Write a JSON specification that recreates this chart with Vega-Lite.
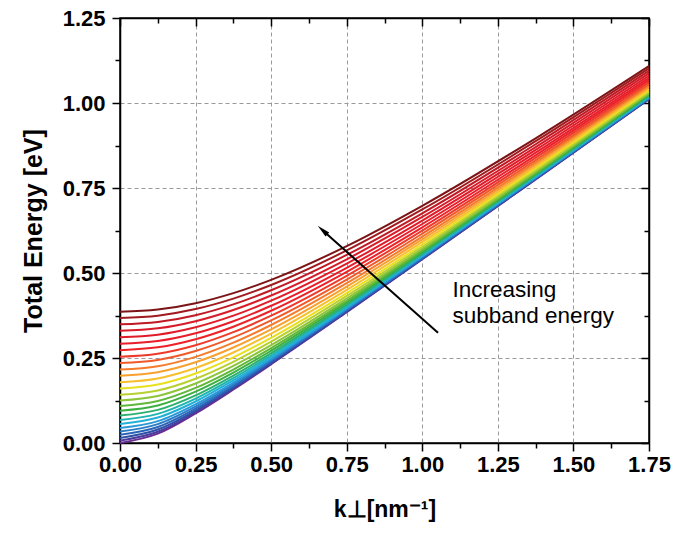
{
  "$schema": "https://vega.github.io/schema/vega-lite/v6.json",
  "width": 529,
  "height": 425,
  "autosize": "none",
  "padding": {"left": 120, "top": 18, "right": 28, "bottom": 94},
  "background": "white",
  "config": {
    "font": "Liberation Sans",
    "view": {"stroke": "black", "strokeWidth": 1.5},
    "axis": {
      "domainColor": "black",
      "domainWidth": 1.5,
      "tickColor": "black",
      "tickWidth": 1.5,
      "labelFont": "Liberation Sans",
      "labelFontWeight": "bold",
      "labelFontSize": 22,
      "labelColor": "black",
      "titleFont": "Liberation Sans",
      "titleFontWeight": "bold",
      "titleFontSize": 23,
      "titleColor": "black",
      "labelOverlap": false,
      "labelFlush": false
    }
  },
  "datasets": {
    "curves": [
      {"n":0,"k":0,"E":0},{"n":0,"k":0.125,"E":0.0275},{"n":0,"k":0.25,"E":0.0871},{"n":0,"k":0.375,"E":0.1574},{"n":0,"k":0.5,"E":0.2317},{"n":0,"k":0.75,"E":0.3848},{"n":0,"k":1.0,"E":0.5403},{"n":0,"k":1.375,"E":0.7754},{"n":0,"k":1.75,"E":1.0113},
      {"n":1,"k":0,"E":0.007},{"n":1,"k":0.125,"E":0.0330},{"n":1,"k":0.25,"E":0.0909},{"n":1,"k":0.375,"E":0.1602},{"n":1,"k":0.5,"E":0.2338},{"n":1,"k":0.75,"E":0.3863},{"n":1,"k":1.0,"E":0.5414},{"n":1,"k":1.375,"E":0.7762},{"n":1,"k":1.75,"E":1.0120},
      {"n":2,"k":0,"E":0.015},{"n":2,"k":0.125,"E":0.0396},{"n":2,"k":0.25,"E":0.0955},{"n":2,"k":0.375,"E":0.1636},{"n":2,"k":0.5,"E":0.2365},{"n":2,"k":0.75,"E":0.3881},{"n":2,"k":1.0,"E":0.5428},{"n":2,"k":1.375,"E":0.7772},{"n":2,"k":1.75,"E":1.0128},
      {"n":3,"k":0,"E":0.024},{"n":3,"k":0.125,"E":0.0471},{"n":3,"k":0.25,"E":0.1009},{"n":3,"k":0.375,"E":0.1676},{"n":3,"k":0.5,"E":0.2397},{"n":3,"k":0.75,"E":0.3903},{"n":3,"k":1.0,"E":0.5445},{"n":3,"k":1.375,"E":0.7784},{"n":3,"k":1.75,"E":1.0137},
      {"n":4,"k":0,"E":0.034},{"n":4,"k":0.125,"E":0.0556},{"n":4,"k":0.25,"E":0.1073},{"n":4,"k":0.375,"E":0.1724},{"n":4,"k":0.5,"E":0.2435},{"n":4,"k":0.75,"E":0.3929},{"n":4,"k":1.0,"E":0.5465},{"n":4,"k":1.375,"E":0.7799},{"n":4,"k":1.75,"E":1.0149},
      {"n":5,"k":0,"E":0.044},{"n":5,"k":0.125,"E":0.0643},{"n":5,"k":0.25,"E":0.1139},{"n":5,"k":0.375,"E":0.1775},{"n":5,"k":0.5,"E":0.2475},{"n":5,"k":0.75,"E":0.3957},{"n":5,"k":1.0,"E":0.5486},{"n":5,"k":1.375,"E":0.7815},{"n":5,"k":1.75,"E":1.0161},
      {"n":6,"k":0,"E":0.056},{"n":6,"k":0.125,"E":0.0749},{"n":6,"k":0.25,"E":0.1221},{"n":6,"k":0.375,"E":0.1839},{"n":6,"k":0.5,"E":0.2526},{"n":6,"k":0.75,"E":0.3993},{"n":6,"k":1.0,"E":0.5514},{"n":6,"k":1.375,"E":0.7835},{"n":6,"k":1.75,"E":1.0177},
      {"n":7,"k":0,"E":0.068},{"n":7,"k":0.125,"E":0.0857},{"n":7,"k":0.25,"E":0.1307},{"n":7,"k":0.375,"E":0.1906},{"n":7,"k":0.5,"E":0.2581},{"n":7,"k":0.75,"E":0.4032},{"n":7,"k":1.0,"E":0.5544},{"n":7,"k":1.375,"E":0.7857},{"n":7,"k":1.75,"E":1.0195},
      {"n":8,"k":0,"E":0.081},{"n":8,"k":0.125,"E":0.0975},{"n":8,"k":0.25,"E":0.1403},{"n":8,"k":0.375,"E":0.1984},{"n":8,"k":0.5,"E":0.2644},{"n":8,"k":0.75,"E":0.4077},{"n":8,"k":1.0,"E":0.5578},{"n":8,"k":1.375,"E":0.7883},{"n":8,"k":1.75,"E":1.0215},
      {"n":9,"k":0,"E":0.095},{"n":9,"k":0.125,"E":0.1104},{"n":9,"k":0.25,"E":0.1511},{"n":9,"k":0.375,"E":0.2070},{"n":9,"k":0.5,"E":0.2715},{"n":9,"k":0.75,"E":0.4129},{"n":9,"k":1.0,"E":0.5618},{"n":9,"k":1.375,"E":0.7912},{"n":9,"k":1.75,"E":1.0238},
      {"n":10,"k":0,"E":0.109},{"n":10,"k":0.125,"E":0.1235},{"n":10,"k":0.25,"E":0.1621},{"n":10,"k":0.375,"E":0.2161},{"n":10,"k":0.5,"E":0.2791},{"n":10,"k":0.75,"E":0.4184},{"n":10,"k":1.0,"E":0.5661},{"n":10,"k":1.375,"E":0.7944},{"n":10,"k":1.75,"E":1.0264},
      {"n":11,"k":0,"E":0.125},{"n":11,"k":0.125,"E":0.1385},{"n":11,"k":0.25,"E":0.1750},{"n":11,"k":0.375,"E":0.2269},{"n":11,"k":0.5,"E":0.2881},{"n":11,"k":0.75,"E":0.4250},{"n":11,"k":1.0,"E":0.5713},{"n":11,"k":1.375,"E":0.7983},{"n":11,"k":1.75,"E":1.0294},
      {"n":12,"k":0,"E":0.142},{"n":12,"k":0.125,"E":0.1546},{"n":12,"k":0.25,"E":0.1891},{"n":12,"k":0.375,"E":0.2388},{"n":12,"k":0.5,"E":0.2982},{"n":12,"k":0.75,"E":0.4325},{"n":12,"k":1.0,"E":0.5772},{"n":12,"k":1.375,"E":0.8027},{"n":12,"k":1.75,"E":1.0330},
      {"n":13,"k":0,"E":0.160},{"n":13,"k":0.125,"E":0.1718},{"n":13,"k":0.25,"E":0.2043},{"n":13,"k":0.375,"E":0.2519},{"n":13,"k":0.5,"E":0.3094},{"n":13,"k":0.75,"E":0.4409},{"n":13,"k":1.0,"E":0.5838},{"n":13,"k":1.375,"E":0.8077},{"n":13,"k":1.75,"E":1.0369},
      {"n":14,"k":0,"E":0.179},{"n":14,"k":0.125,"E":0.1900},{"n":14,"k":0.25,"E":0.2207},{"n":14,"k":0.375,"E":0.2662},{"n":14,"k":0.5,"E":0.3217},{"n":14,"k":0.75,"E":0.4503},{"n":14,"k":1.0,"E":0.5913},{"n":14,"k":1.375,"E":0.8133},{"n":14,"k":1.75,"E":1.0414},
      {"n":15,"k":0,"E":0.198},{"n":15,"k":0.125,"E":0.2083},{"n":15,"k":0.25,"E":0.2374},{"n":15,"k":0.375,"E":0.2809},{"n":15,"k":0.5,"E":0.3345},{"n":15,"k":0.75,"E":0.4602},{"n":15,"k":1.0,"E":0.5991},{"n":15,"k":1.375,"E":0.8193},{"n":15,"k":1.75,"E":1.0462},
      {"n":16,"k":0,"E":0.216},{"n":16,"k":0.125,"E":0.2257},{"n":16,"k":0.25,"E":0.2534},{"n":16,"k":0.375,"E":0.2951},{"n":16,"k":0.5,"E":0.3471},{"n":16,"k":0.75,"E":0.4700},{"n":16,"k":1.0,"E":0.6070},{"n":16,"k":1.375,"E":0.8253},{"n":16,"k":1.75,"E":1.0510},
      {"n":17,"k":0,"E":0.235},{"n":17,"k":0.125,"E":0.2442},{"n":17,"k":0.25,"E":0.2704},{"n":17,"k":0.375,"E":0.3105},{"n":17,"k":0.5,"E":0.3607},{"n":17,"k":0.75,"E":0.4807},{"n":17,"k":1.0,"E":0.6157},{"n":17,"k":1.375,"E":0.8319},{"n":17,"k":1.75,"E":1.0564},
      {"n":18,"k":0,"E":0.254},{"n":18,"k":0.125,"E":0.2627},{"n":18,"k":0.25,"E":0.2877},{"n":18,"k":0.375,"E":0.3261},{"n":18,"k":0.5,"E":0.3747},{"n":18,"k":0.75,"E":0.4919},{"n":18,"k":1.0,"E":0.6248},{"n":18,"k":1.375,"E":0.8389},{"n":18,"k":1.75,"E":1.0620},
      {"n":19,"k":0,"E":0.273},{"n":19,"k":0.125,"E":0.2813},{"n":19,"k":0.25,"E":0.3051},{"n":19,"k":0.375,"E":0.3420},{"n":19,"k":0.5,"E":0.3890},{"n":19,"k":0.75,"E":0.5034},{"n":19,"k":1.0,"E":0.6343},{"n":19,"k":1.375,"E":0.8462},{"n":19,"k":1.75,"E":1.0680},
      {"n":20,"k":0,"E":0.292},{"n":20,"k":0.125,"E":0.2999},{"n":20,"k":0.25,"E":0.3227},{"n":20,"k":0.375,"E":0.3582},{"n":20,"k":0.5,"E":0.4037},{"n":20,"k":0.75,"E":0.5154},{"n":20,"k":1.0,"E":0.6441},{"n":20,"k":1.375,"E":0.8539},{"n":20,"k":1.75,"E":1.0742},
      {"n":21,"k":0,"E":0.311},{"n":21,"k":0.125,"E":0.3185},{"n":21,"k":0.25,"E":0.3404},{"n":21,"k":0.375,"E":0.3745},{"n":21,"k":0.5,"E":0.4186},{"n":21,"k":0.75,"E":0.5276},{"n":21,"k":1.0,"E":0.6543},{"n":21,"k":1.375,"E":0.8619},{"n":21,"k":1.75,"E":1.0806},
      {"n":22,"k":0,"E":0.330},{"n":22,"k":0.125,"E":0.3372},{"n":22,"k":0.25,"E":0.3582},{"n":22,"k":0.375,"E":0.3911},{"n":22,"k":0.5,"E":0.4338},{"n":22,"k":0.75,"E":0.5402},{"n":22,"k":1.0,"E":0.6648},{"n":22,"k":1.375,"E":0.8701},{"n":22,"k":1.75,"E":1.0874},
      {"n":23,"k":0,"E":0.349},{"n":23,"k":0.125,"E":0.3559},{"n":23,"k":0.25,"E":0.3760},{"n":23,"k":0.375,"E":0.4078},{"n":23,"k":0.5,"E":0.4492},{"n":23,"k":0.75,"E":0.5532},{"n":23,"k":1.0,"E":0.6756},{"n":23,"k":1.375,"E":0.8787},{"n":23,"k":1.75,"E":1.0944},
      {"n":24,"k":0,"E":0.368},{"n":24,"k":0.125,"E":0.3746},{"n":24,"k":0.25,"E":0.3940},{"n":24,"k":0.375,"E":0.4247},{"n":24,"k":0.5,"E":0.4648},{"n":24,"k":0.75,"E":0.5664},{"n":24,"k":1.0,"E":0.6868},{"n":24,"k":1.375,"E":0.8876},{"n":24,"k":1.75,"E":1.1017},
      {"n":25,"k":0,"E":0.386},{"n":25,"k":0.125,"E":0.3924},{"n":25,"k":0.25,"E":0.4111},{"n":25,"k":0.375,"E":0.4408},{"n":25,"k":0.5,"E":0.4798},{"n":25,"k":0.75,"E":0.5791},{"n":25,"k":1.0,"E":0.6976},{"n":25,"k":1.375,"E":0.8962},{"n":25,"k":1.75,"E":1.1088}
    ],
    "arrow": [{"k1": 1.052, "e1": 0.324, "k2": 0.672, "e2": 0.624}],
    "head": [{"k": 0.670, "E": 0.626}],
    "notes": [
      {"k": 1.10, "E": 0.430, "label": "Increasing"},
      {"k": 1.10, "E": 0.352, "label": "subband energy"}
    ]
  },
  "layer": [
    {
      "data": {"name": "curves"},
      "mark": {"type": "line", "interpolate": "monotone", "strokeWidth": 2},
      "encoding": {
        "x": {
          "field": "k", "type": "quantitative",
          "scale": {"domain": [0, 1.75], "nice": false, "zero": false},
          "axis": {
            "orient": "bottom",
            "title": "k⊥[nm⁻¹]",
            "titlePadding": 23,
            "values": [0, 0.125, 0.25, 0.375, 0.5, 0.625, 0.75, 0.875, 1.0, 1.125, 1.25, 1.375, 1.5, 1.625, 1.75],
            "labelExpr": "datum.value % 0.25 === 0 ? format(datum.value, '.2f') : ''",
            "tickSize": {"condition": {"test": "datum.value % 0.25 === 0", "value": 8}, "value": 5},
            "labelPadding": 3,
            "grid": true,
            "gridColor": "#9a9a9a",
            "gridDash": [4, 3],
            "gridWidth": 1,
            "gridOpacity": {"condition": {"test": "datum.value % 0.25 === 0 && datum.value > 0 && datum.value < 1.75", "value": 1}, "value": 0}
          }
        },
        "y": {
          "field": "E", "type": "quantitative",
          "scale": {"domain": [0, 1.25], "nice": false, "zero": false},
          "axis": {
            "orient": "left",
            "title": "Total Energy [eV]",
            "titleFontSize": 25,
            "titlePadding": 16,
            "values": [0, 0.125, 0.25, 0.375, 0.5, 0.625, 0.75, 0.875, 1.0, 1.125, 1.25],
            "labelExpr": "datum.value % 0.25 === 0 ? format(datum.value, '.2f') : ''",
            "tickSize": {"condition": {"test": "datum.value % 0.25 === 0", "value": 8}, "value": 5},
            "labelPadding": 7,
            "grid": true,
            "gridColor": "#9a9a9a",
            "gridDash": [4, 3],
            "gridWidth": 1,
            "gridOpacity": {"condition": {"test": "datum.value % 0.25 === 0 && datum.value > 0 && datum.value < 1.25", "value": 1}, "value": 0}
          }
        },
        "detail": {"field": "n", "type": "nominal"},
        "color": {
          "field": "n", "type": "nominal", "legend": null,
          "scale": {
            "domain": [0,1,2,3,4,5,6,7,8,9,10,11,12,13,14,15,16,17,18,19,20,21,22,23,24,25],
            "range": ["#6b2c91","#4b3a9e","#3050a8","#2a64b8","#2a7cc8","#2a98d8","#22b0d8","#20b4b0","#2cb070","#3cb040","#60b83a","#8cc43a","#b8d030","#e8e020","#f8c030","#f8a030","#f47c2c","#f05a2a","#ee3a2a","#ec2228","#e81e2a","#e01c28","#d81b28","#c01a24","#a01a1e","#7c1416"]
          }
        }
      }
    },
    {
      "data": {"name": "arrow"},
      "mark": {"type": "rule", "color": "black", "strokeWidth": 2},
      "encoding": {
        "x": {
          "field": "k1", "type": "quantitative",
          "scale": {"domain": [0, 1.75], "nice": false, "zero": false},
          "axis": {
            "orient": "top", "title": null, "labels": false, "grid": false,
            "values": [0, 0.125, 0.25, 0.375, 0.5, 0.625, 0.75, 0.875, 1.0, 1.125, 1.25, 1.375, 1.5, 1.625, 1.75],
            "tickSize": {"condition": {"test": "datum.value % 0.25 === 0", "value": -8}, "value": -5}
          }
        },
        "y": {
          "field": "e1", "type": "quantitative",
          "scale": {"domain": [0, 1.25], "nice": false, "zero": false},
          "axis": {
            "orient": "right", "title": null, "labels": false, "grid": false,
            "values": [0, 0.125, 0.25, 0.375, 0.5, 0.625, 0.75, 0.875, 1.0, 1.125, 1.25],
            "tickSize": {"condition": {"test": "datum.value % 0.25 === 0", "value": -8}, "value": -5}
          }
        },
        "x2": {"field": "k2"},
        "y2": {"field": "e2"}
      }
    },
    {
      "data": {"name": "head"},
      "mark": {"type": "point", "shape": "M0,-1L0.42,1L-0.42,1Z", "filled": true, "color": "black", "opacity": 1, "size": 170, "angle": 312},
      "encoding": {
        "x": {"field": "k", "type": "quantitative", "axis": null},
        "y": {"field": "E", "type": "quantitative", "axis": null}
      }
    },
    {
      "data": {"name": "notes"},
      "mark": {"type": "text", "align": "left", "baseline": "alphabetic", "font": "Liberation Sans", "fontSize": 22.5, "color": "black"},
      "encoding": {
        "x": {"field": "k", "type": "quantitative", "axis": null},
        "y": {"field": "E", "type": "quantitative", "axis": null},
        "text": {"field": "label"}
      }
    }
  ],
  "resolve": {"axis": {"x": "independent", "y": "independent"}}
}
